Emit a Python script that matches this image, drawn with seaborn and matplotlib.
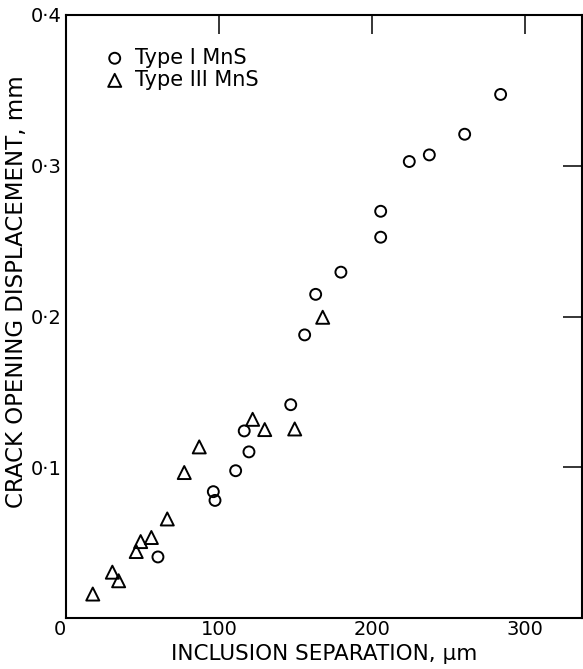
import matplotlib
matplotlib.use("Agg")
import matplotlib.pyplot as plt
import seaborn as sns
import pandas as pd

# Datos
type1_sep = [60.1, 96.3, 97.4, 110.9, 119.6, 116.5, 146.9, 156.0, 163.2, 179.7,
             205.7, 205.7, 224.4, 237.5, 260.6, 284.1]
type1_cod = [0.0405, 0.0838, 0.0780, 0.0977, 0.1102, 0.1241, 0.1415, 0.1878, 0.2147, 0.2294,
             0.2526, 0.2698, 0.3028, 0.3072, 0.3209, 0.3473]

type3_sep = [17.5, 30.3, 34.4, 45.9, 48.8, 55.8, 66.2, 77.3, 87.1, 122.0, 129.9, 149.5, 167.8]
type3_cod = [0.0159, 0.0304, 0.0247, 0.0441, 0.0507, 0.0534, 0.0657, 0.0965, 0.1135, 0.1318,
             0.1250, 0.1254, 0.1995]

x_ticks = [0, 100, 200, 300]
x_ticklabels = ["0", "100", "200", "300"]
y_ticks = [0.1, 0.2, 0.3, 0.4]
y_ticklabels = ["0\u00b71", "0\u00b72", "0\u00b73", "0\u00b74"]

labels = ["Type I MnS", "Type III MnS"]

sns.set_theme(style="white")
plt.rcParams["font.family"] = ["DejaVu Sans"]
plt.rcParams["text.color"] = "black"
plt.rcParams["axes.labelcolor"] = "black"

df1 = pd.DataFrame({"sep": type1_sep, "cod": type1_cod})
df3 = pd.DataFrame({"sep": type3_sep, "cod": type3_cod})

fig = plt.figure(figsize=(5.83, 6.69), dpi=100)
ax = fig.add_axes([66 / 583, 1 - 618 / 669, (582 - 66) / 583, (618 - 15) / 669])

sns.scatterplot(data=df1, x="sep", y="cod", marker="o", s=62, facecolor="none",
                edgecolor="black", linewidth=1.4, label=labels[0], ax=ax, legend=False)
sns.scatterplot(data=df3, x="sep", y="cod", marker="^", s=88, facecolor="none",
                edgecolor="black", linewidth=1.4, label=labels[1], ax=ax, legend=False)

ax.set_xlim(0, 337.3)
ax.set_ylim(0, 0.4)

ax.set_xticks(x_ticks)
ax.set_xticklabels(x_ticklabels)
ax.set_yticks(y_ticks)
ax.set_yticklabels(y_ticklabels)
ax.get_xticklabels()[0].set_ha("right")

ax.tick_params(direction="in", length=14, width=1.1, top=True, right=True,
               labelsize=14, colors="black")
ax.tick_params(axis="x", pad=1.5)
ax.tick_params(axis="y", pad=3)

for sp in ax.spines.values():
    sp.set_linewidth(1.5)
    sp.set_color("black")

ax.set_xlabel("INCLUSION SEPARATION, \u03bcm", fontsize=15.5)
ax.set_ylabel("CRACK OPENING DISPLACEMENT, mm", fontsize=16.5)
ax.xaxis.set_label_coords(0.5, -0.0425)
ax.yaxis.set_label_coords(-0.074, 0.542)

leg = ax.legend(loc="upper left", bbox_to_anchor=(0.05, 0.963), frameon=False,
                fontsize=15, handletextpad=0.35, labelspacing=0.1, borderpad=0,
                handlelength=1.2)

fig.savefig("out.png", dpi=100)
